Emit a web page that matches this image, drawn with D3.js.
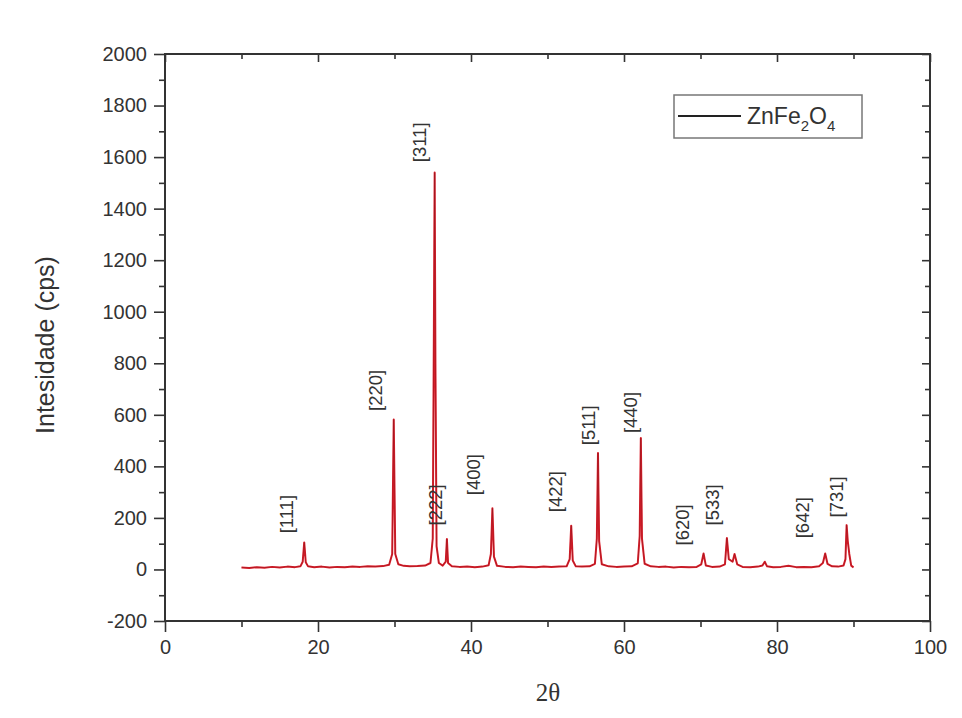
<!DOCTYPE html>
<html>
<head>
<meta charset="utf-8">
<script src="https://cdn.jsdelivr.net/npm/d3@7"></script>
<style>
  body { margin: 0; background: #fff; }
  text { font-family: Arial, "Liberation Sans", sans-serif; fill: #333; }
</style>
</head>
<body>
<svg width="962" height="718"></svg>
<script>
// diffraction pattern: [2theta, counts]
const pattern = [
  [10, 8], [11, 6], [12, 9], [13, 7], [14, 10], [15, 8], [16, 11], [17, 9],
  [17.7, 12], [18.0, 30], [18.2, 105], [18.4, 28], [18.7, 12], [19.5, 9],
  [20.5, 11], [21.5, 8], [22.5, 10], [23.5, 9], [24.5, 11], [25.5, 10],
  [26.5, 12], [27.5, 11], [28.5, 13], [29.3, 18], [29.7, 60], [29.9, 582],
  [30.1, 60], [30.5, 20], [31.2, 14], [32, 12], [33, 13], [34, 15],
  [34.7, 25], [35.0, 120], [35.15, 940], [35.25, 1540], [35.35, 800],
  [35.5, 90], [35.8, 25], [36.3, 15], [36.7, 30], [36.85, 118], [37.0, 25],
  [37.5, 12], [38.5, 10], [39.5, 11], [40.5, 9], [41.5, 11], [42.3, 16],
  [42.6, 60], [42.8, 237], [43.0, 50], [43.4, 14], [44.5, 10], [45.5, 9],
  [46.5, 11], [47.5, 10], [48.5, 9], [49.5, 11], [50.5, 10], [51.5, 11],
  [52.5, 12], [52.9, 40], [53.1, 170], [53.3, 35], [53.7, 12], [54.5, 11],
  [55.5, 12], [56.2, 22], [56.45, 120], [56.6, 452], [56.75, 110], [57.1, 20],
  [58, 12], [59, 10], [60, 11], [61, 12], [61.8, 24], [62.05, 130],
  [62.2, 510], [62.35, 120], [62.7, 22], [63.5, 12], [64.5, 10], [65.5, 11],
  [66.5, 8], [67.5, 10], [68.5, 9], [69.5, 10], [70.1, 20], [70.4, 62],
  [70.7, 15], [71.5, 10], [72.5, 11], [73.2, 20], [73.45, 122], [73.7, 40],
  [74.2, 30], [74.45, 60], [74.8, 20], [75.5, 10], [76.5, 9], [77.5, 11],
  [78.1, 15], [78.4, 30], [78.7, 12], [79.5, 9], [80.5, 10], [81.5, 14],
  [82.5, 9], [83.5, 10], [84.5, 9], [85.5, 12], [86.0, 25], [86.3, 62],
  [86.6, 22], [87.2, 12], [88.0, 11], [88.7, 15], [88.95, 40], [89.1, 172],
  [89.25, 110], [89.45, 60], [89.7, 15], [90, 8]
];

// miller index labels: [text, 2theta, counts at label foot]
const peakLabels = [
  ["[111]", 15.9, 140], ["[220]", 27.5, 615], ["[311]", 33.3, 1580],
  ["[222]", 35.3, 171], ["[400]", 40.3, 288], ["[422]", 51.0, 222],
  ["[511]", 55.3, 482], ["[440]", 60.8, 529], ["[620]", 67.6, 93],
  ["[533]", 71.6, 171], ["[642]", 83.4, 121], ["[731]", 87.8, 202]
];

const xTicks = [0, 20, 40, 60, 80, 100];
const xMinor = [10, 30, 50, 70, 90];
const yTicks = [-200, 0, 200, 400, 600, 800, 1000, 1200, 1400, 1600, 1800, 2000];
const yMinor = [-100, 100, 300, 500, 700, 900, 1100, 1300, 1500, 1700, 1900];

const svg = d3.select("svg");
const mLeft = 165, mRight = 930, mTop = 54, mBottom = 621;

let x = d3.scaleLinear().domain([0, 100]).range([mLeft, mRight]);
let y = d3.scaleLinear().domain([-200, 2000]).range([mBottom, mTop]);

let plain = d => String(d);

let styleAxis = g => {
  g.select(".domain").remove();
  g.selectAll("line").attr("stroke", "#333").attr("stroke-width", 1.6);
  g.selectAll("text").style("font-size", "20px").attr("fill", "#333");
};

// bottom
svg.append("g").attr("transform", `translate(0,${mBottom})`)
  .call(d3.axisBottom(x).tickValues(xTicks).tickSize(11).tickPadding(8).tickFormat(plain))
  .call(styleAxis);
svg.append("g").attr("transform", `translate(0,${mBottom})`)
  .call(d3.axisBottom(x).tickValues(xMinor).tickSize(6).tickFormat(""))
  .call(styleAxis);
// left
svg.append("g").attr("transform", `translate(${mLeft},0)`)
  .call(d3.axisLeft(y).tickValues(yTicks).tickSize(11).tickPadding(7).tickFormat(plain))
  .call(styleAxis);
svg.append("g").attr("transform", `translate(${mLeft},0)`)
  .call(d3.axisLeft(y).tickValues(yMinor).tickSize(6).tickFormat(""))
  .call(styleAxis);
// top and right, ticks pointing in
svg.append("g").attr("transform", `translate(0,${mTop})`)
  .call(d3.axisTop(x).tickValues(xTicks).tickSize(-8).tickFormat(""))
  .call(styleAxis);
svg.append("g").attr("transform", `translate(0,${mTop})`)
  .call(d3.axisTop(x).tickValues(xMinor).tickSize(-5).tickFormat(""))
  .call(styleAxis);
svg.append("g").attr("transform", `translate(${mRight},0)`)
  .call(d3.axisRight(y).tickValues(yTicks).tickSize(-8).tickFormat(""))
  .call(styleAxis);
svg.append("g").attr("transform", `translate(${mRight},0)`)
  .call(d3.axisRight(y).tickValues(yMinor).tickSize(-5).tickFormat(""))
  .call(styleAxis);

// frame
svg.append("rect")
  .attr("x", mLeft).attr("y", mTop)
  .attr("width", mRight - mLeft).attr("height", mBottom - mTop)
  .attr("fill", "none").attr("stroke", "#333").attr("stroke-width", 2);

// trace
let line = d3.line().x(d => x(d[0])).y(d => y(d[1]));
svg.append("path").datum(pattern)
  .attr("d", line)
  .attr("fill", "none")
  .attr("stroke", "#de1f2b")
  .attr("stroke-width", 2)
  .attr("stroke-linejoin", "round");
svg.append("path").datum(pattern)
  .attr("d", line)
  .attr("fill", "none")
  .attr("stroke", "#6b1016")
  .attr("stroke-width", 0.7)
  .attr("stroke-opacity", 0.5);

// peak labels
svg.append("g").selectAll("text")
  .data(peakLabels)
  .enter().append("text")
    .attr("transform", d => `translate(${x(d[1])},${y(d[2])}) rotate(-90)`)
    .attr("dy", "0.35em")
    .style("font-size", "18.5px")
    .text(d => d[0]);

// axis titles
svg.append("text")
  .attr("transform", "translate(54,345) rotate(-90)")
  .attr("text-anchor", "middle")
  .style("font-size", "25px")
  .text("Intesidade (cps)");

svg.append("text")
  .attr("x", 548).attr("y", 701)
  .attr("text-anchor", "middle")
  .style("font-family", "'Liberation Serif', 'DejaVu Serif', serif")
  .style("font-size", "25px")
  .text("2θ");

// legend
let legend = svg.append("g");
legend.append("rect")
  .attr("x", 674).attr("y", 95).attr("width", 188).attr("height", 43)
  .attr("fill", "#fff").attr("stroke", "#777").attr("stroke-width", 1.5);
legend.append("line")
  .attr("x1", 678).attr("x2", 741).attr("y1", 116).attr("y2", 116)
  .attr("stroke", "#222").attr("stroke-width", 2);
let lt = legend.append("text")
  .attr("x", 747).attr("y", 124)
  .style("font-size", "23px");
lt.append("tspan").text("ZnFe");
lt.append("tspan").attr("dy", 7).style("font-size", "15px").text("2");
lt.append("tspan").attr("dy", -7).text("O");
lt.append("tspan").attr("dy", 7).style("font-size", "15px").text("4");
</script>
</body>
</html>
